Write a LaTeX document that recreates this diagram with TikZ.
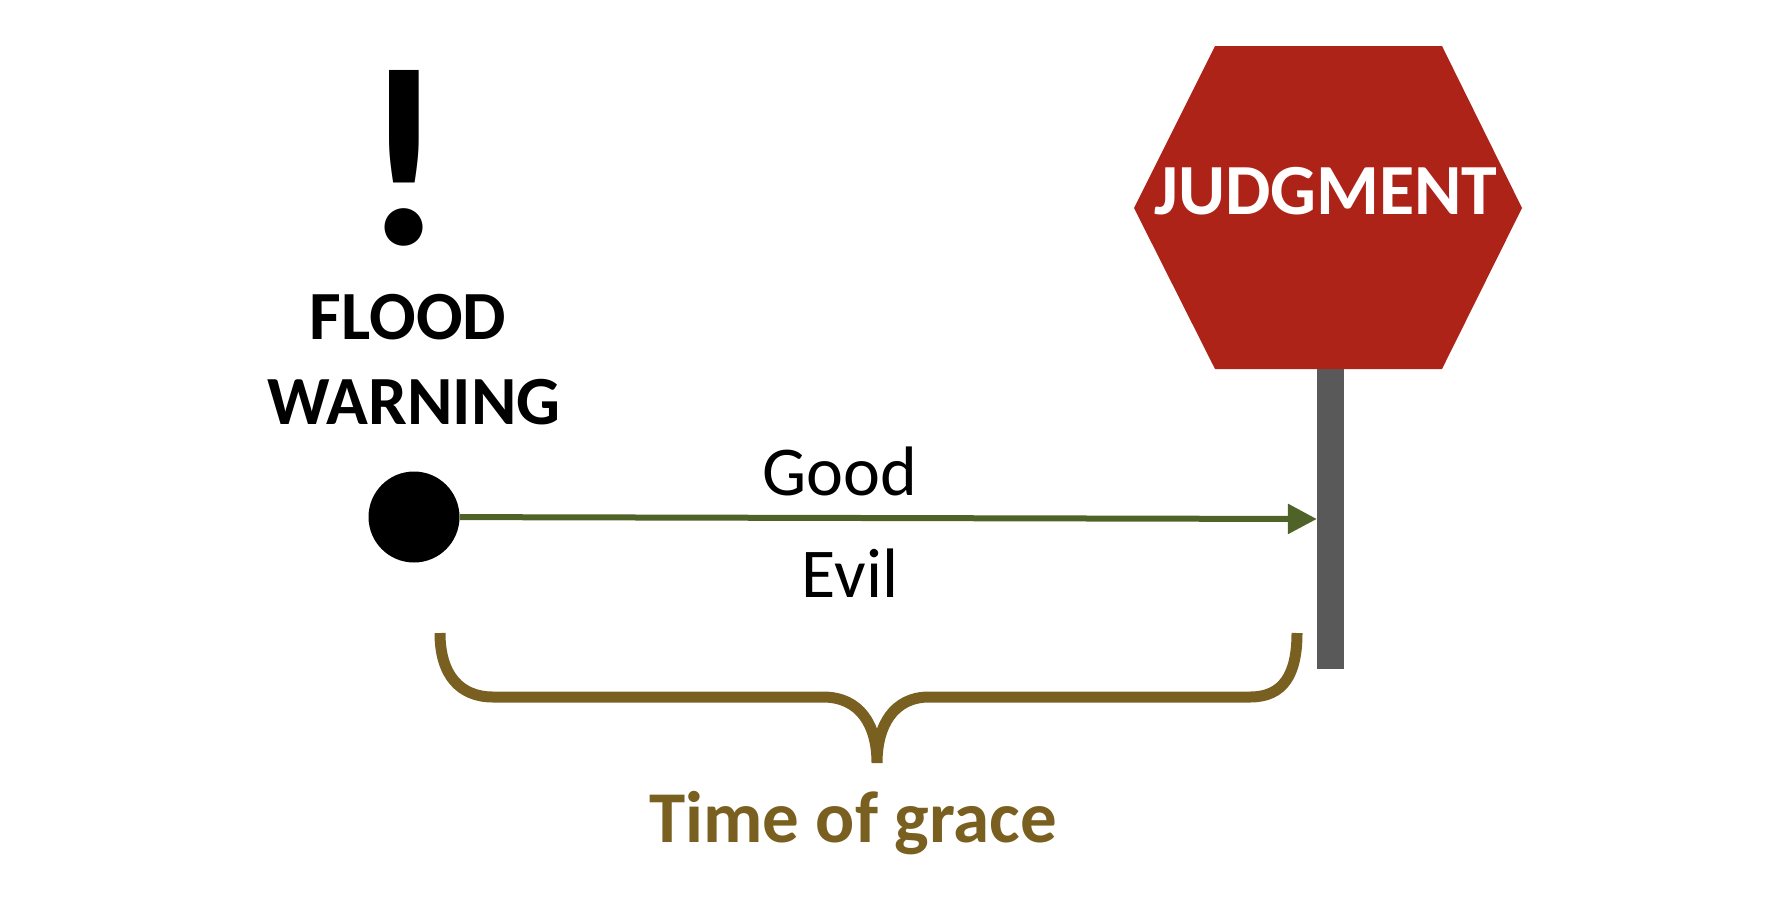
\documentclass[tikz,border=0pt]{standalone}
\usepackage{fontspec}
\setmainfont{Carlito}
\usetikzlibrary{arrows.meta, positioning}
\definecolor{signred}{RGB}{174,35,24}
\definecolor{polegray}{RGB}{89,89,89}
\definecolor{pathgreen}{RGB}{79,98,40}
\definecolor{gracebrown}{RGB}{122,96,32}

\begin{document}
\begin{tikzpicture}[
      x=1pt, y=-1pt,
      word/.style={inner sep=0pt, anchor=base, font=\fontsize{70}{70}\selectfont},
      boldword/.style={word, font=\fontsize{69}{69}\selectfont\bfseries},
      edge/.style={-{Triangle[length=29pt, width=29pt]}, line width=6pt, pathgreen},
      brace/.style={line width=11pt, gracebrown}
    ]
    \useasboundingbox (0,0) rectangle (1768,900);
    \node[inner sep=0pt, font=\fontsize{255}{255}\selectfont\bfseries] (bang) at (404,158) {!};
    \node[boldword] (flood) at (408,339) {FLOOD};
    \node[boldword] (warning) at (414,424) {WARNING};
    \node[circle, fill=black, minimum size=91pt, inner sep=0pt] (dot) at (414,517) {};
    \node[fill=polegray, minimum width=27pt, minimum height=300pt, inner sep=0pt] (pole) at (1330.5,519) {};
    \fill[signred] (1134,208) -- (1215,46) -- (1442,46) -- (1522,208) -- (1442,369) -- (1215,369) -- cycle;
    \node[boldword, white, font=\fontsize{72}{72}\selectfont\bfseries] (judgment) at (1326,214) {JUDGMENT};
    \draw[edge] (dot) -- (pole.west);
    \node[word] (good) at (840,495) {Good};
    \node[word] (evil) at (850,597) {Evil};
    \coordinate (bracel) at (440,633);
    \coordinate (bracer) at (1297,633);
    \coordinate (bracetip) at (877,763);
    \draw[brace] (bracel) .. controls (440,675) and (460,697) .. (493,697) -- (823,697)
      .. controls (860,697) and (877,725) .. (bracetip)
      .. controls (877,725) and (894,697) .. (929,697) -- (1250,697)
      .. controls (1283,697) and (1297,675) .. (bracer);
    \node[boldword, gracebrown, font=\fontsize{73}{73}\selectfont\bfseries] (grace) at (853,842) {Time of grace};
    \end{tikzpicture}
\end{document}
